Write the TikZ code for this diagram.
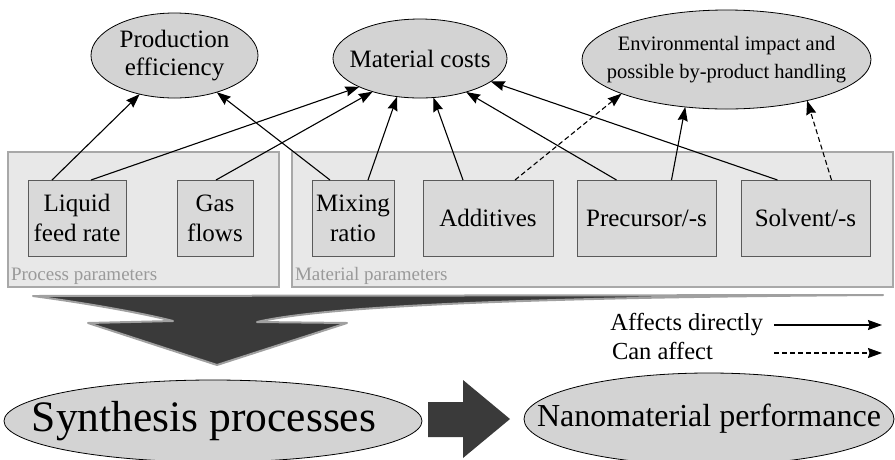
\documentclass[tikz,border=0pt]{standalone}
\usepackage{fontspec}
\setmainfont{Liberation Serif}
\usetikzlibrary{arrows.meta,shapes.geometric}

\definecolor{ovalgray}{HTML}{D3D3D3}
\definecolor{boxgray}{HTML}{D9D9D9}
\definecolor{boxline}{HTML}{5A5A5A}
\definecolor{groupgray}{HTML}{E8E8E8}
\definecolor{groupline}{HTML}{A8A8A8}
\definecolor{labelgray}{HTML}{9A9A9A}
\definecolor{darkfill}{HTML}{3A3A3A}
\definecolor{chevedge}{HTML}{A0A0A0}

\begin{document}
\begin{tikzpicture}[x=1pt,y=-1pt,
  every node/.style={inner sep=0pt, outer sep=0pt},
  oval/.style={ellipse, draw=black, line width=0.8pt, fill=ovalgray},
  param/.style={rectangle, draw=boxline, line width=0.8pt, fill=boxgray,
    minimum height=76pt, align=center, font=\fontsize{25}{30}\selectfont},
  group/.style={rectangle, draw=groupline, line width=1.5pt, fill=groupgray},
  grouplabel/.style={anchor=base west, text=labelgray, font=\fontsize{19}{22}\selectfont},
  legendtext/.style={font=\fontsize{24.5}{28}\selectfont},
  link/.style={line width=1.1pt, -{Stealth[length=14pt,width=10pt,inset=1.5pt]}},
  maybe/.style={link, dash pattern=on 5pt off 3pt},
]
\path[use as bounding box] (0,0) rectangle (895,459);
\clip (0,0) rectangle (895,459);

% parameter groups
\node[group, minimum width=271pt, minimum height=135pt] (procgroup) at (143.5,219.5) {};
\node[group, minimum width=601pt, minimum height=135pt] (matgroup) at (592.5,219.5) {};
\node[grouplabel] (proclabel) at (11,280) {Process parameters};
\node[grouplabel] (matlabel) at (295,280) {Material parameters};

% parameters
\node[param, minimum width=98pt]  (liquid)    at (77,218)    {Liquid\\feed rate};
\node[param, minimum width=76pt]  (gas)       at (215,218)   {Gas\\flows};
\node[param, minimum width=82pt]  (mixing)    at (353,218)   {Mixing\\ratio};
\node[param, minimum width=130pt] (additives) at (488,218)   {Additives};
\node[param, minimum width=139pt] (precursor) at (646.5,218) {Precursor/-s};
\node[param, minimum width=129pt] (solvent)   at (805.5,218) {Solvent/-s};

% outcomes
\node[oval, minimum width=167pt, minimum height=85pt,
  label={[font=\fontsize{25}{28}\selectfont, align=center]center:Production\\efficiency}]
  (prod) at (174.5,55.5) {};
\node[oval, minimum width=174pt, minimum height=79pt,
  label={[font=\fontsize{25}{28}\selectfont]center:Material costs}]
  (cost) at (420,58.5) {};
\node[oval, minimum width=289pt, minimum height=99pt,
  label={[font=\fontsize{20.5}{28}\selectfont, align=center]center:Environmental impact and\\possible by-product handling}]
  (env) at (726.5,59.5) {};

% influences
\draw[link]  ([xshift=-25pt]liquid.north)    -- (prod.228);
\draw[link]  ([xshift=14pt]liquid.north)     -- (cost.205);
\draw[link]  ([xshift=1pt]gas.north)         -- (cost.215);
\draw[link]  ([xshift=-23pt]mixing.north)    -- (prod.319);
\draw[link]  ([xshift=15pt]mixing.north)     -- (cost.239);
\draw[link]  ([xshift=-25pt]additives.north) -- (cost.289);
\draw[maybe] ([xshift=27pt]additives.north)  -- (env.198);
\draw[link]  ([xshift=-30pt]precursor.north) -- (cost.324);
\draw[link]  ([xshift=25pt]precursor.north)  -- (env.229);
\draw[link]  ([xshift=-28pt]solvent.north)   -- (cost.342);
\draw[maybe] ([xshift=26pt]solvent.north)    -- (env.333);

% bent arrow gathering the parameters
\draw[draw=chevedge, line width=2pt, line join=round, fill=darkfill]
  (33,296) .. controls (100,305) and (150,315) .. (173,321)
  -- (88,323) -- (217,365) -- (347,323) -- (257,322)
  .. controls (330,305) and (550,297) .. (883,295) -- cycle;

% legend
\node[legendtext, anchor=east] (directtext) at (763,325) {Affects directly};
\coordinate (directend) at (882,325);
\draw[link] ([xshift=11pt]directtext.east) -- (directend);
\node[legendtext, anchor=west] (canaffect) at (612,351) {Can affect};
\coordinate (dashstart) at (774,353);
\coordinate (dashend) at (882,353);
\draw[maybe] (dashstart) -- (dashend);

% synthesis and performance
\node[oval, minimum width=418pt, minimum height=82pt,
  label={[font=\fontsize{43.5}{48}\selectfont, xshift=-9pt]center:Synthesis processes}]
  (synth) at (213,421) {};
\fill[darkfill] (428,402) -- (463,402) -- (463,380) -- (510,419)
  -- (463,458) -- (463,437) -- (428,437) -- cycle;
\node[oval, minimum width=370pt, minimum height=92pt,
  label={[font=\fontsize{32}{36}\selectfont]center:Nanomaterial performance}]
  (nano) at (709,419) {};
\end{tikzpicture}
\end{document}
